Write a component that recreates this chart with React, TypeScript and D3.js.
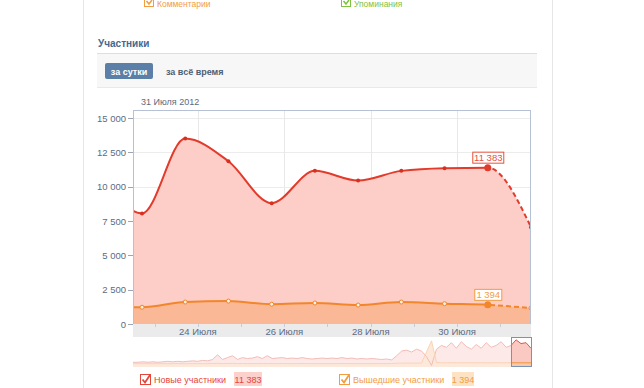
import { useEffect, useRef } from "react";
import * as d3 from "d3";

// daily points (17:00 each day), first one is outside the visible window
const pointDays = [21, 22, 23, 24, 25, 26, 27, 28, 29, 30, 31];
const newMembers = [11000, 8050, 13500, 11850, 8800, 11150, 10450, 11150, 11350, 11383, 7050];
const leftMembers = [1300, 1220, 1600, 1670, 1440, 1530, 1380, 1600, 1480, 1394, 1160];

const yTicks = [0, 2500, 5000, 7500, 10000, 12500, 15000];
const xTickDays = [24, 26, 28, 30];
const xTickLabels = ["24 Июля", "26 Июля", "28 Июля", "30 Июля"];

// navigator (whole period, overview)
const navNew = [
  1870, 1870, 2100, 1870, 2100, 1870, 2100, 2340, 2100, 2340, 2100, 2340, 2570, 2340, 2800, 2570,
  3270, 5600, 3270, 4200, 5140, 3270, 4200, 3740, 3970, 4670, 3740, 5140, 3740, 3970, 4200, 3740,
  3970, 3740, 4200, 3740, 3500, 3740, 3970, 3740, 3970, 3740, 4200, 3740, 3970, 3500, 3740, 3500,
  3740, 3500, 3270, 3500, 3040, 5140, 7470, 7940, 7000, 8400, 7470, 4670, 230, 8400, 10270, 9340,
  11670, 8870, 12140, 9800, 8400, 10740, 8870, 11670, 9340, 10270, 12140, 9340, 10270, 13080, 11200,
  11670, 8870,
];
const navLeft = [
  1170, 1170, 1200, 1170, 1150, 1170, 1200, 1170, 1170, 1200, 1170, 1150, 1170, 1200, 1170, 1170,
  1250, 1300, 1200, 1250, 1300, 1200, 1250, 1200, 1200, 1250, 1200, 1250, 1200, 1200, 1250, 1200,
  1200, 1200, 1250, 1200, 1200, 1200, 1200, 1200, 1200, 1200, 1250, 1200, 1200, 1200, 1200, 1200,
  1200, 1200, 1200, 1200, 1200, 1400, 1400, 1450, 1400, 1450, 1500, 7000, 12600, 1800, 1600, 1600,
  1650, 1600, 1600, 1650, 1600, 1600, 1650, 1600, 1600, 1650, 1600, 1600, 1650, 1600, 1600, 1600,
  1600,
];

const fmt = (v: number) => d3.format(",")(v).replace(/,/g, " ");

const App = () => {
  const ref = useRef<SVGSVGElement>(null);

  useEffect(() => {
    const svg = d3.select(ref.current);
    svg.selectAll("*").remove();
    const font = "'Liberation Sans', Arial, sans-serif";

    // page frame
    svg.append("line").attr("x1", 83.5).attr("x2", 83.5).attr("y1", 0).attr("y2", 388).attr("stroke", "#e6e6e6");
    svg.append("line").attr("x1", 552.5).attr("x2", 552.5).attr("y1", 0).attr("y2", 388).attr("stroke", "#e6e6e6");

    // items at the very top (previous block)
    const topItems = [
      { x: 144, label: "Комментарии", color: "#f29d3f" },
      { x: 341, label: "Упоминания", color: "#7fc241" },
    ];
    topItems.forEach((t) => {
      svg.append("rect").attr("x", t.x + 0.5).attr("y", -2.5).attr("width", 9).attr("height", 9)
        .attr("fill", "#fff").attr("stroke", t.color);
      svg.append("path").attr("d", `M${t.x + 2.5},${1} L${t.x + 5},${4} L${t.x + 8},${0}`)
        .attr("fill", "none").attr("stroke", t.color).attr("stroke-width", 1.5);
      svg.append("text").attr("x", t.x + 13).attr("y", 7).attr("font-family", font).attr("font-size", 8.5)
        .attr("fill", t.color).text(t.label);
    });

    // heading and tabs
    svg.append("text").attr("x", 98).attr("y", 47).attr("font-family", font).attr("font-size", 10)
      .attr("font-weight", "bold").attr("fill", "#45688e").text("Участники");
    svg.append("rect").attr("x", 97).attr("y", 53).attr("width", 440).attr("height", 34).attr("fill", "#f7f7f7");
    svg.append("line").attr("x1", 97).attr("x2", 537).attr("y1", 53.5).attr("y2", 53.5).attr("stroke", "#dedede");
    svg.append("line").attr("x1", 97).attr("x2", 537).attr("y1", 87.5).attr("y2", 87.5).attr("stroke", "#e9e9e9");
    svg.append("rect").attr("x", 105).attr("y", 63).attr("width", 48).attr("height", 16).attr("rx", 2).attr("fill", "#5b7fa6");
    svg.append("text").attr("x", 129).attr("y", 74.5).attr("text-anchor", "middle").attr("font-family", font)
      .attr("font-size", 9).attr("font-weight", "bold").attr("fill", "#fff").text("за сутки");
    svg.append("text").attr("x", 166).attr("y", 74.5).attr("font-family", font)
      .attr("font-size", 9).attr("font-weight", "bold").attr("fill", "#4e5f74").text("за всё время");

    svg.append("text").attr("x", 141).attr("y", 105).attr("font-family", font).attr("font-size", 9)
      .attr("fill", "#5c6b80").text("31 Июля 2012");

    // main chart
    const left = 133, right = 531, top = 110, bottom = 324;
    const x = d3.scaleTime()
      .domain([new Date(2012, 6, 22, 12), new Date(2012, 6, 31, 17)])
      .range([left, right]);
    const y = d3.scaleLinear().domain([0, 15000]).range([bottom, 118]);

    const pts = pointDays.map((d, i) => ({ date: new Date(2012, 6, d, 17), a: newMembers[i], b: leftMembers[i] }));
    const hover = pts[9];

    const defs = svg.append("defs");
    defs.append("clipPath").attr("id", "plot").append("rect")
      .attr("x", left).attr("y", top).attr("width", right - left).attr("height", bottom - top);
    defs.append("clipPath").attr("id", "solid").append("rect")
      .attr("x", left).attr("y", top).attr("width", x(hover.date) - left).attr("height", bottom - top);
    defs.append("clipPath").attr("id", "dash").append("rect")
      .attr("x", x(hover.date)).attr("y", top).attr("width", right - x(hover.date)).attr("height", bottom - top);

    // grid
    yTicks.forEach((t) => {
      svg.append("line").attr("x1", left).attr("x2", right).attr("y1", Math.round(y(t)) + 0.5).attr("y2", Math.round(y(t)) + 0.5)
        .attr("stroke", "#ececec");
      svg.append("line").attr("x1", left - 5).attr("x2", left).attr("y1", Math.round(y(t)) + 0.5).attr("y2", Math.round(y(t)) + 0.5)
        .attr("stroke", "#9aa6b8");
      svg.append("text").attr("x", left - 7).attr("y", y(t) + 3.5).attr("text-anchor", "end")
        .attr("font-family", font).attr("font-size", 9.5).attr("fill", "#5a6b85").text(fmt(t));
    });
    xTickDays.forEach((d) => {
      const xx = Math.round(x(new Date(2012, 6, d))) + 0.5;
      svg.append("line").attr("x1", xx).attr("x2", xx).attr("y1", top).attr("y2", bottom).attr("stroke", "#e8e8e8");
    });

    const g = svg.append("g").attr("clip-path", "url(#plot)");
    const areaA = d3.area<any>().x((d) => x(d.date)).y0(bottom).y1((d) => y(d.a)).curve(d3.curveMonotoneX);
    const areaB = d3.area<any>().x((d) => x(d.date)).y0(bottom).y1((d) => y(d.b)).curve(d3.curveMonotoneX);
    const lineA = d3.line<any>().x((d) => x(d.date)).y((d) => y(d.a)).curve(d3.curveMonotoneX);
    const lineB = d3.line<any>().x((d) => x(d.date)).y((d) => y(d.b)).curve(d3.curveMonotoneX);

    g.append("path").datum(pts).attr("d", areaA).attr("fill", "#fdcdc8");
    g.append("path").datum(pts).attr("d", areaB).attr("fill", "#fbb896");

    const lines = [
      { gen: lineA, color: "#e33b2b" },
      { gen: lineB, color: "#f2862a" },
    ];
    lines.forEach((l) => {
      g.append("g").attr("clip-path", "url(#solid)").append("path").datum(pts).attr("d", l.gen)
        .attr("fill", "none").attr("stroke", l.color).attr("stroke-width", 2);
      g.append("g").attr("clip-path", "url(#dash)").append("path").datum(pts).attr("d", l.gen)
        .attr("fill", "none").attr("stroke", l.color).attr("stroke-width", 2).attr("stroke-dasharray", "5,3");
    });

    pts.forEach((p, i) => {
      if (i === 9) return;
      g.append("circle").attr("cx", x(p.date)).attr("cy", y(p.a)).attr("r", 2).attr("fill", "#d8301f");
      g.append("circle").attr("cx", x(p.date)).attr("cy", y(p.b)).attr("r", 2).attr("fill", "#fff0dc")
        .attr("stroke", "#f2862a").attr("stroke-width", 1);
    });
    g.append("circle").attr("cx", x(hover.date)).attr("cy", y(hover.a)).attr("r", 3.5).attr("fill", "#e33b2b");
    g.append("circle").attr("cx", x(hover.date)).attr("cy", y(hover.b)).attr("r", 3.5).attr("fill", "#f2862a");

    // frame
    svg.append("rect").attr("x", left + 0.5).attr("y", top + 0.5).attr("width", right - left - 1).attr("height", bottom - top)
      .attr("fill", "none").attr("stroke", "#b7c1d6");

    // value flags
    const flags = [
      { v: hover.a, color: "#e6503f", w: 31 },
      { v: hover.b, color: "#f29d3f", w: 27 },
    ];
    flags.forEach((f) => {
      const cx = x(hover.date), cy = y(f.v);
      svg.append("rect").attr("x", cx - f.w / 2 + 0.5).attr("y", cy - 15.5).attr("width", f.w).attr("height", 11)
        .attr("fill", "#fff").attr("stroke", f.color);
      svg.append("text").attr("x", cx + 0.5).attr("y", cy - 6.5).attr("text-anchor", "middle")
        .attr("font-family", font).attr("font-size", 9.5).attr("fill", f.color).text(fmt(f.v));
    });

    // x-axis band
    svg.append("rect").attr("x", left).attr("y", bottom).attr("width", right - left).attr("height", 13).attr("fill", "#ebebeb");
    d3.range(23, 32).forEach((d) => {
      const xx = Math.round(x(new Date(2012, 6, d))) + 0.5;
      svg.append("line").attr("x1", xx).attr("x2", xx).attr("y1", bottom).attr("y2", bottom + 3).attr("stroke", "#c8ccd4");
    });
    xTickDays.forEach((d, i) => {
      svg.append("text").attr("x", x(new Date(2012, 6, d))).attr("y", bottom + 10.5).attr("text-anchor", "middle")
        .attr("font-family", font).attr("font-size", 9.5).attr("fill", "#5a6b85").text(xTickLabels[i]);
    });

    // navigator
    const nTop = 337, nBottom = 367;
    const nx = d3.scaleLinear().domain([0, navNew.length - 1]).range([left, right]);
    const ny = d3.scaleLinear().domain([0, 14000]).range([nBottom - 1, nTop + 1]);
    const nArea = (arr: number[]) => d3.area<number>().x((_, i) => nx(i)).y0(nBottom).y1((d) => ny(d))(arr);
    const nLine = (arr: number[]) => d3.line<number>().x((_, i) => nx(i)).y((d) => ny(d))(arr);
    const ng = svg.append("g");
    ng.append("path").attr("d", nArea(navNew)).attr("fill", "#f9c9c2");
    ng.append("path").attr("d", nArea(navLeft)).attr("fill", "#f7c9a8");
    ng.append("path").attr("d", nLine(navNew)).attr("fill", "none").attr("stroke", "#e0584a").attr("stroke-width", 1);
    ng.append("path").attr("d", nLine(navLeft)).attr("fill", "none").attr("stroke", "#ef9440").attr("stroke-width", 1);
    const winX = 511;
    ng.append("rect").attr("x", left).attr("y", nTop).attr("width", winX - left).attr("height", nBottom - nTop)
      .attr("fill", "#fff").attr("opacity", 0.6);
    ng.append("rect").attr("x", winX + 0.5).attr("y", nTop + 0.5).attr("width", right - winX).attr("height", nBottom - nTop - 1)
      .attr("fill", "none").attr("stroke", "#7893b3");

    // legend
    const legend = [
      { x: 140, label: "Новые участники", color: "#e6453a", badge: "#fcd0cb", value: hover.a, bx: 234 },
      { x: 339, label: "Вышедшие участники", color: "#f29d3f", badge: "#fde3c4", value: hover.b, bx: 452 },
    ];
    legend.forEach((l) => {
      svg.append("rect").attr("x", l.x + 0.5).attr("y", 374.5).attr("width", 10).attr("height", 10)
        .attr("fill", "#fff").attr("stroke", l.color);
      svg.append("path").attr("d", `M${l.x + 2.5},${379.5} L${l.x + 5},${382.5} L${l.x + 10},${375}`)
        .attr("fill", "none").attr("stroke", l.color).attr("stroke-width", 1.8);
      svg.append("text").attr("x", l.x + 14).attr("y", 382.5).attr("font-family", font).attr("font-size", 9)
        .attr("fill", l.color).text(l.label);
      const w = l.value > 9999 ? 28 : 22;
      svg.append("rect").attr("x", l.bx).attr("y", 372).attr("width", w).attr("height", 14).attr("fill", l.badge);
      svg.append("text").attr("x", l.bx + w / 2).attr("y", 382.5).attr("text-anchor", "middle").attr("font-family", font)
        .attr("font-size", 9).attr("fill", l.color).text(fmt(l.value));
    });
  }, []);

  return (
    <svg ref={ref} width={644} height={388} style={{ position: "absolute", left: 0, top: 0, background: "#fff" }} />
  );
};

export default App;
